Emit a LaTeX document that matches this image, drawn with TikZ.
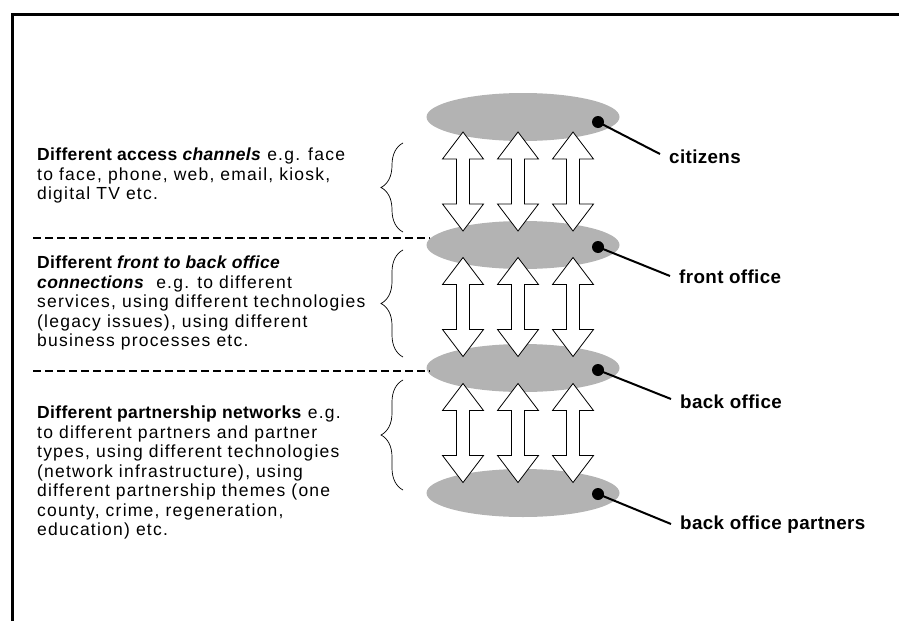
\documentclass[tikz,border=0pt]{standalone}
\usepackage{fontspec}
\setmainfont{Liberation Sans}[LetterSpace=7,BoldFeatures={LetterSpace=2},BoldItalicFeatures={LetterSpace=2}]
\usepackage{xcolor}
\definecolor{layergray}{HTML}{B3B3B3}
\usetikzlibrary{shapes.geometric,decorations.pathreplacing,positioning,calc}
\tikzset{
  dblarrow/.pic={\draw[fill=white,line width=0.8pt] (0,-49.5) -- (20.5,-22.5) -- (6.5,-22.5) -- (6.5,22.5)
    -- (20.5,22.5) -- (0,49.5) -- (-20.5,22.5) -- (-6.5,22.5) -- (-6.5,-22.5) -- (-20.5,-22.5) -- cycle;}}

\begin{document}
\begin{tikzpicture}[
  x=1pt,y=-1pt,
  layer/.style={ellipse,fill=layergray,minimum width=193pt,minimum height=48pt,inner sep=0pt},
  dot/.style={circle,fill=black,minimum size=12pt,inner sep=0pt},
  lbl/.style={anchor=west,inner xsep=9pt,inner ysep=0pt,text height=13pt,text depth=3pt,font=\bfseries\fontsize{18.8}{20}\selectfont},
  desc/.style={anchor=north west,inner sep=0pt,align=left,font=\fontsize{17.5}{19.5}\selectfont},
  sep/.style={line width=2.2pt,dash pattern=on 8pt off 4pt},
  brc/.style={decorate,decoration={brace,amplitude=22pt},line width=0.7pt},
  lead/.style={line width=2pt}]
\useasboundingbox (0,0) rectangle (899,621);
\draw[line width=3pt] (12,621) -- (12,14) -- (899,14);
% layers
\node[layer] (citizens) at (523,117) {};
\node[layer] (front) at (523,245) {};
\node[layer] (back) at (523,368) {};
\node[layer] (partners) at (523,493) {};
% connections between layers
\pic at (463,181.5) {dblarrow};
\pic at (518,181.5) {dblarrow};
\pic at (573,181.5) {dblarrow};
\pic at (463,307) {dblarrow};
\pic at (518,307) {dblarrow};
\pic at (573,307) {dblarrow};
\pic at (463,433) {dblarrow};
\pic at (518,433) {dblarrow};
\pic at (573,433) {dblarrow};
% labels
\node[dot] (citizensdot) at ($(citizens)+(75,5)$) {};
\node[dot] (frontdot) at ($(front)+(75,2)$) {};
\node[dot] (backdot) at ($(back)+(75,2)$) {};
\node[dot] (partnersdot) at ($(partners)+(75,1)$) {};
\node[lbl] (citizenslbl) at (660,158) {citizens};
\node[lbl] (frontlbl) at (670,278) {front office};
\node[lbl] (backlbl) at (671,403) {back office};
\node[lbl] (partnerslbl) at (671,524) {back office partners};
\draw[lead] (citizensdot.center) -- ([yshift=4pt]citizenslbl.west);
\draw[lead] (frontdot.center) -- ([yshift=2pt]frontlbl.west);
\draw[lead] (backdot.center) -- ([yshift=4pt]backlbl.west);
\draw[lead] (partnersdot.center) -- ([yshift=0pt]partnerslbl.west);
% descriptions
\node[desc] (channels) at (37,148) {\textbf{Different access \textit{channels}} e.g. face\\to face, phone, web, email, kiosk,\\digital TV etc.};
\node[desc] (connections) at (37,256) {\textbf{Different \textit{front to back office}}\\\textbf{\textit{connections}}\ \ e.g. to different\\services, using different technologies\\(legacy issues), using different\\business processes etc.};
\node[desc] (networks) at (37,406) {\textbf{Different partnership networks} e.g.\\to different partners and partner\\types, using different technologies\\(network infrastructure), using\\different partnership themes (one\\county, crime, regeneration,\\education) etc.};
\coordinate (sepa) at (33,238);
\coordinate (sepb) at (33,371);
\draw[sep] (sepa) -- (430,238);
\draw[sep] (sepb) -- (430,371);
\draw[brc] (403,232) -- (403,143);
\draw[brc] (403,357) -- (403,250);
\draw[brc] (403,490) -- (403,380);
\end{tikzpicture}
\end{document}
